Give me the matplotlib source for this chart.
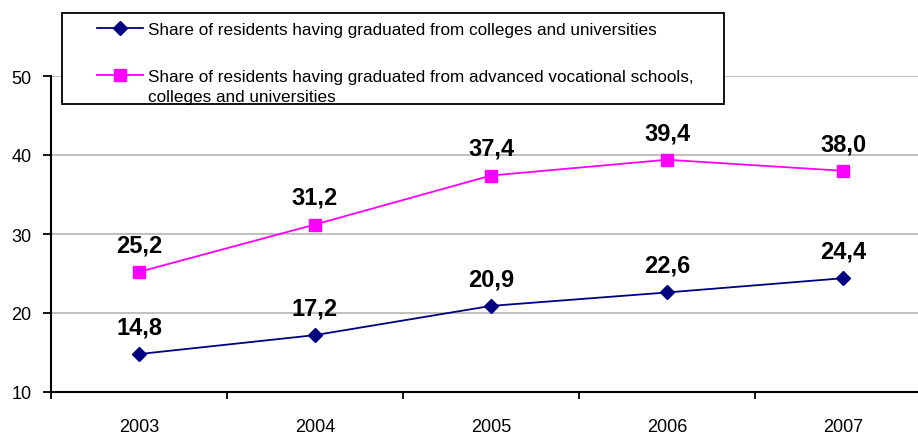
import matplotlib
matplotlib.use("Agg")
import matplotlib.pyplot as plt
from matplotlib.patches import Rectangle
from matplotlib.ticker import FixedLocator

years = ["2003", "2004", "2005", "2006", "2007"]
higher_ed = [14.8, 17.2, 20.9, 22.6, 24.4]
vocational_and_higher = [25.2, 31.2, 37.4, 39.4, 38.0]

label_higher = "Share of residents having graduated from colleges and universities"
label_vocational = "Share of residents having graduated from advanced vocational schools,"
label_vocational_cont = "colleges and universities"

plt.rcParams["font.family"] = ["Liberation Sans", "DejaVu Sans"]

W, H = 918, 435
fig = plt.figure(figsize=(W / 100, H / 100), dpi=100)
# axes extends slightly beyond the right edge, like the cropped original
ax = fig.add_axes([51 / W, 1 - 393 / H, 880 / W, 316 / H])

x = list(range(len(years)))
ax.plot(x, higher_ed, color="#000080", marker="D", markersize=7, lw=1.3,
        label=label_higher, zorder=3)
ax.plot(x, vocational_and_higher, color="#FF00FF", marker="s", markersize=9, lw=1.3,
        label=label_vocational, zorder=3)

for series in (higher_ed, vocational_and_higher):
    for xi, v in zip(x, series):
        ax.annotate(f"{v:.1f}".replace(".", ","), (xi, v), xytext=(0, 19.5),
                    textcoords="offset points", ha="center", va="center",
                    fontsize=17, fontweight="bold", color="black")

ax.set_xlim(-0.5, len(years) - 0.5)
ax.set_ylim(10, 50)
ax.set_yticks([10, 20, 30, 40, 50])
ax.yaxis.grid(True, color="#c0c0c0", lw=1.4)
ax.set_axisbelow(True)

# category labels centred, ticks at category boundaries
ax.set_xticks(x)
ax.set_xticklabels(years)
ax.xaxis.set_minor_locator(FixedLocator([i - 0.5 for i in range(len(years) + 1)]))
ax.tick_params(axis="x", which="major", length=0, pad=19, labelsize=13)
ax.tick_params(axis="x", which="minor", length=5, width=1.3, direction="out")
ax.tick_params(axis="y", length=6, width=1.3, direction="out", pad=8, labelsize=13)

for side in ("top", "right"):
    ax.spines[side].set_visible(False)
for side in ("left", "bottom"):
    ax.spines[side].set_linewidth(1.5)

# legend box drawn separately so the padding can match the original
box = Rectangle((62 / W, 1 - 105 / H), 662 / W, 91 / H, transform=fig.transFigure,
                facecolor="white", edgecolor="black", lw=1.3, zorder=4)
fig.add_artist(box)
leg = fig.legend(loc="upper left", bbox_to_anchor=(97 / W, 1 - 23 / H),
                 frameon=False, fontsize=12.3, handlelength=2.7, handletextpad=0.3,
                 labelspacing=1.9, borderpad=0, borderaxespad=0)
leg.set_zorder(5)

# second line of the wrapped label sits under the first, handle stays on line one
fig.canvas.draw()
bb = leg.get_texts()[1].get_window_extent()
fig.text(bb.x0 / W, (bb.y0 - 20) / H, label_vocational_cont, fontsize=12.3,
         ha="left", va="bottom", zorder=6)

fig.savefig("out.png", dpi=100)
